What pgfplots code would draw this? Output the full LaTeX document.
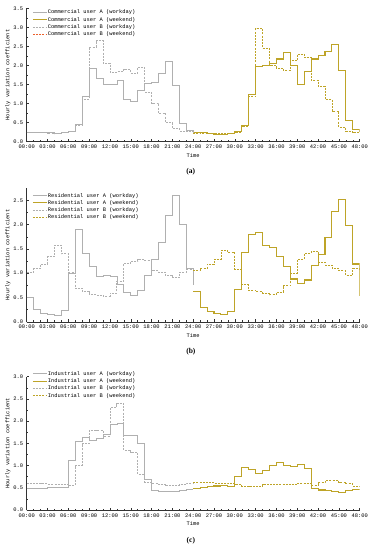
\documentclass[border=0pt]{standalone}
\usepackage{fontspec}
\setmainfont{Liberation Serif}
\setmonofont{Liberation Mono}
\usepackage{pgfplots}
\pgfplotsset{compat=1.18}
\definecolor{cgray}{RGB}{176,176,176}
\definecolor{colive}{RGB}{190,164,40}
\definecolor{cred}{RGB}{236,96,44}
\newcommand{\chartfont}{\ttfamily\fontsize{5.4}{6}\selectfont}
\pgfplotsset{
  myaxis/.style={
    scale only axis, width=333pt, height=133.4pt,
    axis lines=left, axis line style={-, line width=0.4pt, black!80},
    xmin=0, xmax=48, ymin=0,
    xtick={0,3,...,48},
    xticklabels={00:00,03:00,06:00,09:00,12:00,15:00,18:00,21:00,24:00,27:00,30:00,33:00,36:00,39:00,42:00,45:00,48:00},
    minor x tick num=2, minor y tick num=1,
    tick align=inside, major tick length=2.5pt, minor tick length=1.5pt,
    tick style={black!80, line width=0.4pt},
    ticklabel style={font=\chartfont},
    /pgf/number format/assume math mode=true,
    yticklabel style={/pgf/number format/.cd, fixed, fixed zerofill, precision=1},
    xlabel={Time}, ylabel={Hourly variation coefficient},
    label style={font=\chartfont},
    xlabel style={at={(axis description cs:0.5,-0.105)}, anchor=center},
    ylabel style={at={(axis description cs:-0.056,0.5)}, anchor=center},
    legend cell align=left,
    legend style={draw=none, fill=none, font=\chartfont, anchor=north west,
      inner sep=0pt, row sep=1.3pt,
      nodes={inner sep=0.5pt, text height=4pt, text depth=1pt}},
    legend image code/.code={\draw[##1] (0pt,0pt) -- (14pt,0pt);},
    clip mode=individual,
  },
  sA/.style={const plot, no marks, cgray, line width=0.7pt},
  sB/.style={const plot, no marks, cgray, line width=0.8pt, dash pattern=on 2pt off 1.2pt},
  wA/.style={const plot, no marks, colive, line width=1.1pt},
  wB/.style={const plot, no marks, colive, line width=0.8pt, dash pattern=on 2pt off 1.2pt},
}
\begin{document}
\begin{tikzpicture}
\path[use as bounding box] (0,0) rectangle (373pt,550pt);
% ---------------- (a)
\begin{axis}[myaxis, at={(26.7pt,408.3pt)}, anchor=south west,
  ymax=3.5, ytick={0,0.5,...,3.5},
  legend style={at={(0.016,0.993)}}]
\addplot[sA] coordinates {(0,0.24)(1,0.24)(2,0.25)(3,0.24)(4,0.21)(5,0.25)(6,0.27)(7,0.46)(8,1.18)(9,1.92)(10,1.66)(11,1.51)(12,1.51)(13,1.62)(14,1.12)(15,1.06)(16,1.35)(17,1.52)(18,1.56)(19,1.79)(20,2.11)(21,1.49)(22,0.49)(23,0.31)(24,0.26)};
\addlegendentry{Commercial user A (workday)}
\addplot[wA] coordinates {(24,0.24)(25,0.23)(26,0.21)(27,0.20)(28,0.20)(29,0.21)(30,0.26)(31,0.43)(32,1.23)(33,1.97)(34,2.01)(35,2.04)(36,2.17)(37,2.35)(38,1.99)(39,1.49)(40,1.84)(41,2.17)(42,2.27)(43,2.37)(44,2.55)(45,1.86)(46,0.55)(47,0.31)(48,0.25)};
\addlegendentry{Commercial user A (weekend)}
\addplot[sB] coordinates {(0,0.24)(1,0.24)(2,0.24)(3,0.22)(4,0.21)(5,0.25)(6,0.28)(7,0.42)(8,1.12)(9,2.48)(10,2.65)(11,2.06)(12,1.82)(13,1.84)(14,1.90)(15,1.80)(16,1.95)(17,1.30)(18,1.01)(19,0.75)(20,0.50)(21,0.35)(22,0.28)(23,0.26)(24,0.25)};
\addlegendentry{Commercial user B (workday)}
\addplot[wB, forget plot] coordinates {(24,0.23)(25,0.22)(26,0.22)(27,0.22)(28,0.21)(29,0.22)(30,0.24)(31,0.39)(32,1.18)(33,2.97)(34,2.45)(35,2.00)(36,1.93)(37,1.87)(38,2.12)(39,2.30)(40,2.20)(41,1.62)(42,1.46)(43,1.10)(44,0.80)(45,0.38)(46,0.28)(47,0.25)(48,0.24)};
\addlegendimage{cred, line width=0.8pt, dash pattern=on 2pt off 1.2pt}
\addlegendentry{Commercial user B (weekend)}
\node[font=\bfseries\fontsize{7.5}{8}\selectfont] at (axis description cs:0.493,-0.227) {(a)};
\end{axis}
% ---------------- (b)
\begin{axis}[myaxis, at={(26.7pt,228.3pt)}, anchor=south west,
  ymax=2.75, ytick={0,0.5,...,2.5},
  legend style={at={(0.016,0.97)}}]
\addplot[sA] coordinates {(0,0.50)(1,0.26)(2,0.18)(3,0.145)(4,0.14)(5,0.23)(6,1.00)(7,1.91)(8,1.41)(9,1.14)(10,0.93)(11,0.96)(12,0.94)(13,0.76)(14,0.60)(15,0.55)(16,0.65)(17,0.95)(18,1.29)(19,1.63)(20,2.20)(21,2.60)(22,2.01)(23,1.09)(24,0.76)};
\addlegendentry{Residential user A (workday)}
\addplot[wA] coordinates {(24,0.63)(25,0.29)(26,0.21)(27,0.17)(28,0.15)(29,0.21)(30,0.67)(31,1.43)(32,1.79)(33,1.83)(34,1.58)(35,1.53)(36,1.34)(37,1.14)(38,0.88)(39,0.79)(40,0.86)(41,1.15)(42,1.39)(43,1.74)(44,2.27)(45,2.51)(46,1.98)(47,1.19)(48,0.52)};
\addlegendentry{Residential user A (weekend)}
\addplot[sB] coordinates {(0,1.02)(1,1.10)(2,1.19)(3,1.34)(4,1.58)(5,1.40)(6,1.02)(7,0.69)(8,0.62)(9,0.56)(10,0.55)(11,0.53)(12,0.59)(13,0.83)(14,1.20)(15,1.25)(16,1.29)(17,1.27)(18,1.05)(19,1.02)(20,0.95)(21,0.91)(22,1.02)(23,1.07)(24,1.05)};
\addlegendentry{Residential user B (workday)}
\addplot[wB] coordinates {(24,1.05)(25,1.10)(26,1.18)(27,1.29)(28,1.47)(29,1.43)(30,1.08)(31,0.76)(32,0.65)(33,0.62)(34,0.59)(35,0.56)(36,0.61)(37,0.74)(38,1.00)(39,1.29)(40,1.41)(41,1.45)(42,1.23)(43,1.17)(44,1.10)(45,1.05)(46,0.96)(47,1.10)(48,1.05)};
\addlegendentry{Residential user B (weekend)}
\node[font=\bfseries\fontsize{7.5}{8}\selectfont] at (axis description cs:0.493,-0.227) {(b)};
\end{axis}
% ---------------- (c)
\begin{axis}[myaxis, at={(26.7pt,40pt)}, anchor=south west,
  ymax=3.0, ytick={0,0.5,...,3.0},
  legend style={at={(0.016,1.045)}}]
\addplot[sA] coordinates {(0,0.48)(1,0.49)(2,0.49)(3,0.50)(4,0.51)(5,0.51)(6,1.11)(7,1.54)(8,1.64)(9,1.56)(10,1.62)(11,1.70)(12,1.92)(13,1.94)(14,1.67)(15,1.69)(16,1.51)(17,0.68)(18,0.45)(19,0.43)(20,0.42)(21,0.41)(22,0.44)(23,0.47)(24,0.47)};
\addlegendentry{Industrial user A (workday)}
\addplot[wA] coordinates {(24,0.49)(25,0.50)(26,0.52)(27,0.54)(28,0.55)(29,0.53)(30,0.75)(31,0.96)(32,0.92)(33,0.82)(34,0.89)(35,1.00)(36,1.06)(37,1.01)(38,0.98)(39,1.02)(40,0.93)(41,0.49)(42,0.45)(43,0.44)(44,0.41)(45,0.40)(46,0.43)(47,0.47)(48,0.47)};
\addlegendentry{Industrial user A (weekend)}
\addplot[sB] coordinates {(0,0.60)(1,0.60)(2,0.59)(3,0.58)(4,0.58)(5,0.57)(6,0.55)(7,1.00)(8,1.49)(9,1.79)(10,1.79)(11,1.66)(12,2.30)(13,2.39)(14,1.35)(15,1.30)(16,0.80)(17,0.63)(18,0.60)(19,0.57)(20,0.55)(21,0.56)(22,0.58)(23,0.60)(24,0.60)};
\addlegendentry{Industrial user B (workday)}
\addplot[wB] coordinates {(24,0.62)(25,0.62)(26,0.61)(27,0.60)(28,0.60)(29,0.59)(30,0.58)(31,0.54)(32,0.53)(33,0.54)(34,0.57)(35,0.58)(36,0.57)(37,0.57)(38,0.58)(39,0.60)(40,0.60)(41,0.56)(42,0.62)(43,0.66)(44,0.66)(45,0.62)(46,0.59)(47,0.54)(48,0.54)};
\addlegendentry{Industrial user B (weekend)}
\node[font=\bfseries\fontsize{7.5}{8}\selectfont] at (axis description cs:0.493,-0.227) {(c)};
\end{axis}
\end{tikzpicture}
\end{document}
